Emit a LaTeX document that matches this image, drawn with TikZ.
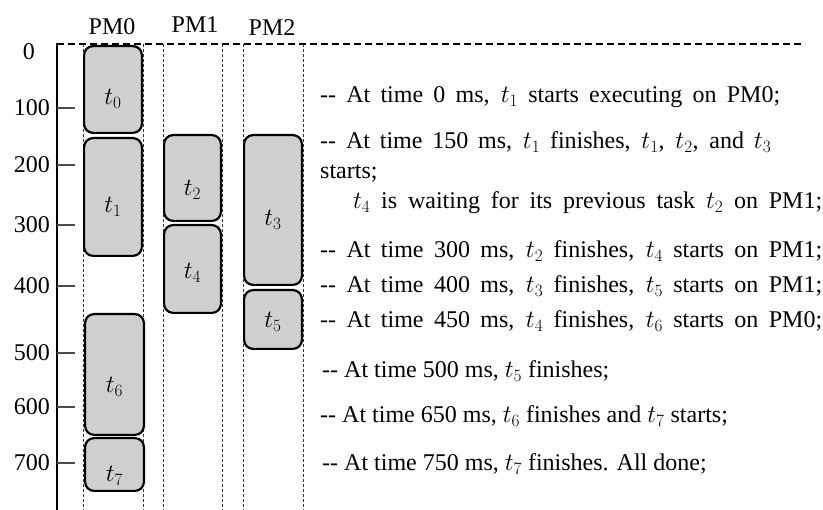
\documentclass[tikz,border=0pt]{standalone}
\usepackage{fontspec}
\setmainfont{Liberation Serif}
\usepackage{tikz}
\definecolor{taskgray}{RGB}{208,206,208}
\tikzset{
  task/.style    = {draw=black, line width=2.2pt, fill=taskgray,
                    rounded corners=9pt, inner sep=0pt},
  tasklbl/.style = {inner sep=0pt},
  pmcol/.style   = {black!80, line width=0.7pt, dash pattern=on 3pt off 2pt},
  toprule/.style = {black, line width=1.3pt, dash pattern=on 7pt off 4pt},
  tick/.style    = {black!70, line width=1.2pt},
  ticklbl/.style = {anchor=east, inner sep=0pt},
  evtxt/.style   = {anchor=base west, inner sep=0pt},
}

\begin{document}
\begin{tikzpicture}[x=1pt, y=-1pt, every node/.style={font=\fontsize{24}{28}\selectfont}]
  \useasboundingbox (0,0) rectangle (823,510);
  % machine columns
  \foreach \xl/\xr in {83/143,163/222,243/303} {
    \draw[pmcol] (\xl,44) -- (\xl,510);
    \draw[pmcol] (\xr,44) -- (\xr,510);
  }
  \node[anchor=base] (pm0) at (112,35) {PM0};
  \node[anchor=base] (pm1) at (195,33) {PM1};
  \node[anchor=base] (pm2) at (272,36) {PM2};
  % time axis
  \coordinate (ax0) at (57,44);
  \coordinate (ax1) at (57,510);
  \coordinate (axr) at (805,44);
  \draw[toprule] (ax0) -- (axr);
  \draw[black, line width=1.2pt] (ax1) -- (ax0) -- ++(4,0);
  \node[inner sep=0pt] (lbl0) at (29,52) {0};
  \foreach \v/\y in {100/108,200/165,300/225,400/286,500/353,600/407,700/463} {
    \coordinate (tk\v) at (75,\y);
    \draw[tick] (57,\y) -- (tk\v);
    \node[ticklbl] (lbl\v) at (50,\y) {\v};
  }
  % tasks: name/left/right/top/bottom/label
  \foreach \n/\xl/\xr/\tp/\bt/\ly in {0/83/143/45/134/99, 1/83/143/137/257/207,
      2/163/222/134/222/190, 4/163/222/224/314/273, 3/243/303/134/286/220,
      5/243/303/289/350/322, 6/84/145/313/436/387, 7/84/145/437/492/476} {
    \node[task, minimum width={\xr-\xl-2.2}, minimum height={\bt-\tp-2.2}]
      (t\n) at ({(\xl+\xr)/2},{(\tp+\bt)/2}) {};
    \node[tasklbl] (lt\n) at ({(\xl+\xr)/2},\ly) {$t_{\n}$};
  }
  % events (right end 0 = natural width)
  \foreach \bl/\xx/\we/\txt [count=\k] in {
      103/320/780/{-{}- At time 0 ms, $t_1$ starts executing on PM0;},
      149/320/771/{-{}- At time 150 ms, $t_1$ finishes, $t_1$, $t_2$, and $t_3$},
      179/320/0/{starts;},
      209/353/822/{$t_4$ is waiting for its previous task $t_2$ on PM1;},
      258/320/822/{-{}- At time 300 ms, $t_2$ finishes, $t_4$ starts on PM1;},
      293/320/822/{-{}- At time 400 ms, $t_3$ finishes, $t_5$ starts on PM1;},
      328/320/822/{-{}- At time 450 ms, $t_4$ finishes, $t_6$ starts on PM0;},
      378/322/0/{-{}- At time 500 ms, $t_5$ finishes;},
      423/320/0/{-{}- At time 650 ms, $t_6$ finishes and $t_7$ starts;},
      471/322/0/{-{}- At time 750 ms, $t_7$ finishes. All done;}} {
    \ifnum\we=0
      \node[evtxt] (ev\k) at (\xx,\bl) {\txt};
    \else
      \pgfmathsetlengthmacro\evw{\we-\xx}
      \node[evtxt] (ev\k) at (\xx,\bl) {\hbox to \evw{\txt}};
    \fi
  }
\end{tikzpicture}
\end{document}
